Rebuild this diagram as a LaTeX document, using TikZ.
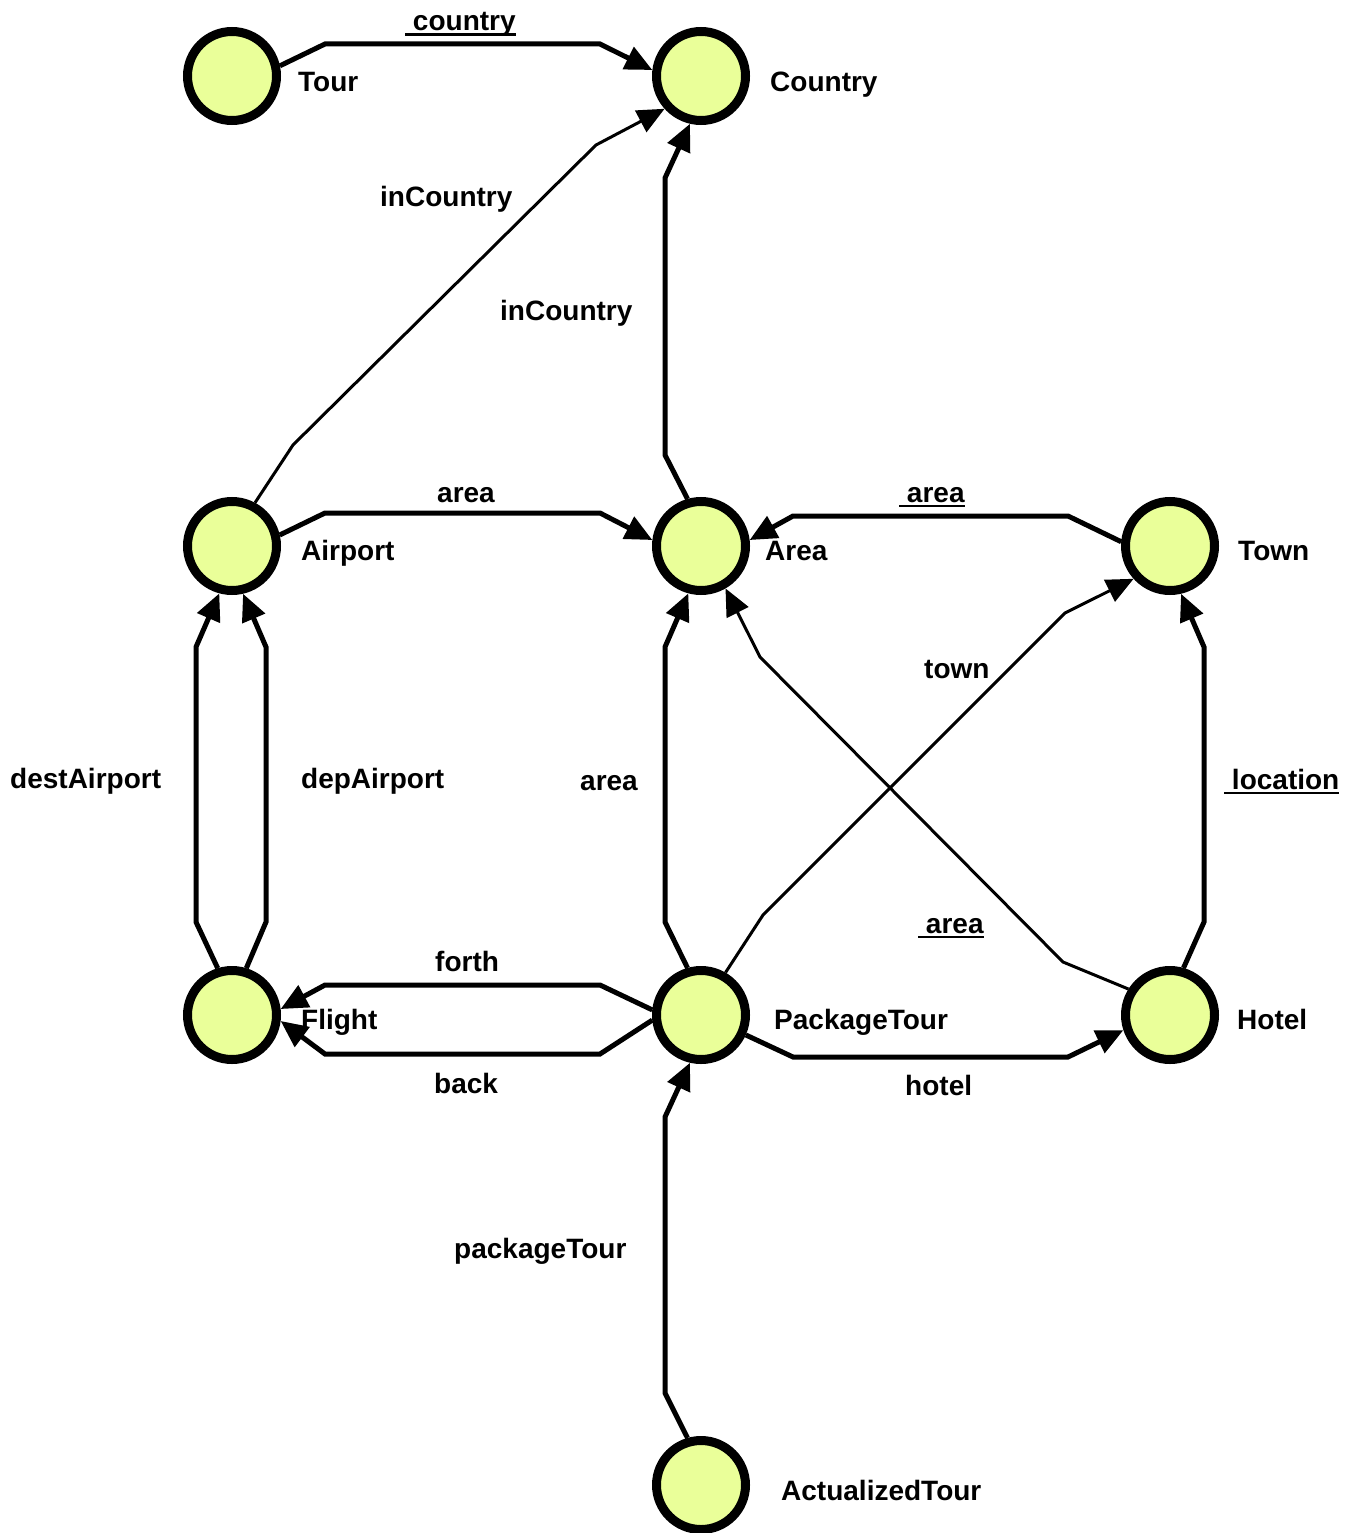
\documentclass[tikz,border=0pt]{standalone}
\usepackage{fontspec}
\setmainfont{Liberation Sans}
\usetikzlibrary{arrows.meta}
\definecolor{classfill}{RGB}{234,255,153}
% underlined role name with a thick rule
\newcommand\ulabel[1]{\setbox0\hbox{#1}\rlap{\rule[-5pt]{\wd0}{2.5pt}}\box0}

\begin{document}
\begin{tikzpicture}[x=1pt,y=-1pt,
  cls/.style={circle,draw=black,fill=classfill,line width=9pt,minimum size=89pt,inner sep=0pt},
  lbl/.style={font=\fontsize{28}{30}\selectfont\bfseries,inner sep=0pt,anchor=base west},
  assoc/.style={line width=5pt,-{Triangle[length=27pt,width=24pt]}},
  thinassoc/.style={line width=3pt,-{Triangle[length=27pt,width=24pt]}},
]
\useasboundingbox (0,0) rectangle (1362,1533);

% classes
\node[cls] (tour)    at (232,76)   {};
\node[cls] (country) at (701,76)   {};
\node[cls] (airport) at (232,546)  {};
\node[cls] (area)    at (701,546)  {};
\node[cls] (town)    at (1170,546) {};
\node[cls] (flight)  at (232,1015) {};
\node[cls] (ptour)   at (701,1015) {};
\node[cls] (hotel)   at (1170,1015){};
\node[cls] (atour)   at (701,1485) {};

% class names
\node[lbl] (tourname)    at (298,92)   {Tour};
\node[lbl] (countryname) at (770,92)   {Country};
\node[lbl] (airportname) at (301,560)  {Airport};
\node[lbl] (areaname)    at (765,560)  {Area};
\node[lbl] (townname)    at (1238,560) {Town};
\node[lbl] (flightname)  at (301,1029) {Flight};
\node[lbl] (ptourname)   at (774,1029) {PackageTour};
\node[lbl] (hotelname)   at (1237,1029){Hotel};
\node[lbl] (atourname)   at (781,1500) {ActualizedTour};

% associations
\draw[assoc] (tour.12) -- (325,44) -- (600,44) -- (country.173);
\draw[thinassoc] (airport.62) -- (293,445) -- (596,145) -- (country.222);
\draw[assoc] (area.106) -- (665,455) -- (665,178) -- (country.257);
\draw[assoc] (airport.13) -- (325,513) -- (600,513) -- (area.173);
\draw[assoc] (town.175) -- (1068,516) -- (793,516) -- (area.7);
\draw[assoc] (flight.107) -- (196,922) -- (196,647) -- (airport.255);
\draw[assoc] (flight.73) -- (266,922) -- (266,647) -- (airport.283);
\draw[assoc] (ptour.106) -- (665,922) -- (665,647) -- (area.255);
\draw[thinassoc] (ptour.60) -- (763,915) -- (1065,613) -- (town.222);
\draw[thinassoc] (hotel.148) -- (1063,962) -- (760,657) -- (area.300);
\draw[assoc] (hotel.74) -- (1204,922) -- (1204,647) -- (town.283);
\draw[assoc] (ptour.174) -- (600,985) -- (325,985) -- (flight.7);
\draw[assoc] (ptour.186) -- (600,1054) -- (325,1054) -- (flight.353);
\draw[assoc] (ptour.336) -- (793,1057) -- (1068,1057) -- (hotel.198);
\draw[assoc] (atour.106) -- (665,1393) -- (665,1117) -- (ptour.257);

% role names
\node[lbl] (rcountry)   at (405,31)   {\ulabel{\ country}};
\node[lbl] (rincountry1) at (380,207) {inCountry};
\node[lbl] (rincountry2) at (500,320) {inCountry};
\node[lbl] (rarea1)     at (437,502)  {area};
\node[lbl] (rarea2)     at (899,502)  {\ulabel{\ area}};
\node[lbl] (rtown)      at (924,678)  {town};
\node[lbl] (rdest)      at (10,788)   {destAirport};
\node[lbl] (rdep)       at (301,788)  {depAirport};
\node[lbl] (rarea3)     at (580,790)  {area};
\node[lbl] (rlocation)  at (1224,789) {\ulabel{\ location}};
\node[lbl] (rarea4)     at (918,933)  {\ulabel{\ area}};
\node[lbl] (rforth)     at (435,971)  {forth};
\node[lbl] (rback)      at (434,1093) {back};
\node[lbl] (rhotel)     at (905,1095) {hotel};
\node[lbl] (rptour)     at (454,1258) {packageTour};
\end{tikzpicture}
\end{document}
